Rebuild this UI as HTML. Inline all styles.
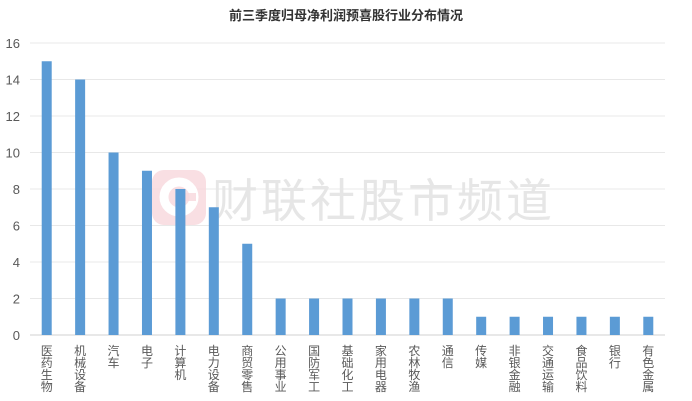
<!DOCTYPE html>
<html><head><meta charset="utf-8"><style>
body{margin:0;background:#fff;}
svg{display:block;font-family:"Liberation Sans","Noto Sans CJK SC",sans-serif;}
</style></head><body>
<svg id="chart" width="692" height="401" viewBox="0 0 692 401">
<text x="346" y="20" text-anchor="middle" font-size="13" font-weight="bold" fill="#333">前三季度归母净利润预喜股行业分布情况</text>
<g id="grid"></g>
<g>
<rect x="152" y="170" width="54" height="55" rx="12" fill="#f8d7dc" opacity="0.8"/>
<circle cx="179" cy="197" r="15" fill="none" stroke="#fff" stroke-width="9"/>
<rect x="182" y="193" width="14" height="8" fill="#f8d7dc" opacity="0.8"/>
<text x="212" y="217" font-size="46" fill="#e6e6e6" letter-spacing="3">财联社股市频道</text>
</g>
<g id="bars"></g><g id="labels"></g>
</svg>
<script>
const categories=["医药生物","机械设备","汽车","电子","计算机","电力设备","商贸零售","公用事业","国防军工","基础化工","家用电器","农林牧渔","通信","传媒","非银金融","交通运输","食品饮料","银行","有色金属"];
const values=[15,14,10,9,8,7,5,2,2,2,2,2,2,1,1,1,1,1,1];
const yTicks=[0,2,4,6,8,10,12,14,16];
const NS="http://www.w3.org/2000/svg";
const x0=30,x1=665,yBase=335,yTop=43,yMax=16;
const step=(x1-x0)/categories.length;
const y=v=>yBase-(yBase-yTop)*v/yMax;
const xc=i=>x0+step*(i+0.5);
function mk(tag,attrs,parent){const e=document.createElementNS(NS,tag);for(const k in attrs)e.setAttribute(k,attrs[k]);document.getElementById(parent).appendChild(e);return e;}
yTicks.forEach(t=>{
 const l=mk('line',{x1:x0,x2:x1,y1:y(t),y2:y(t),stroke:t===0?'#d0d0d0':'#e8e8e8','stroke-width':1},'grid');
 
 
 const tx=mk('text',{x:20,y:y(t)+5,'text-anchor':'end','font-size':13,fill:'#595959'},'grid');
 tx.textContent=t;
 
 
});
categories.forEach((c,i)=>{
 const r=mk('rect',{x:xc(i)-5,y:y(values[i]),width:10,height:yBase-y(values[i]),fill:'#5b9bd5'},'bars');
 
 
 const g=mk('g',{},'labels');
 
 
 [...c].forEach((ch,j)=>{const t=document.createElementNS(NS,'text');t.setAttribute('x',xc(i));t.setAttribute('y',355+j*12);t.setAttribute('text-anchor','middle');t.setAttribute('font-size',12);t.setAttribute('fill','#595959');t.textContent=ch;g.appendChild(t);});
});
</script>
</body></html>
